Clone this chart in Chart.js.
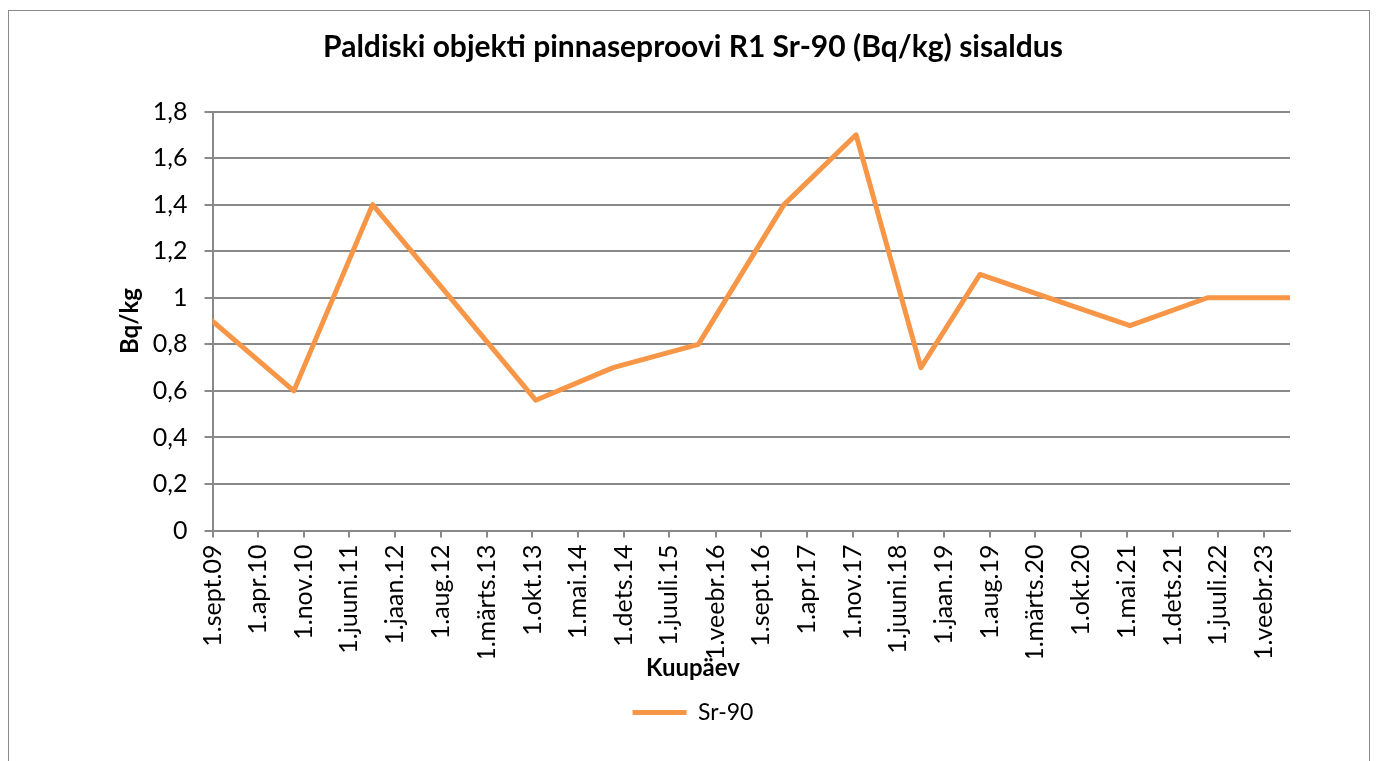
<!DOCTYPE html>
<html lang="et">
<head>
<meta charset="utf-8">
<title>Paldiski objekti pinnaseproovi R1 Sr-90 (Bq/kg) sisaldus</title>
<script src="https://cdn.jsdelivr.net/npm/chart.js@4/dist/chart.umd.min.js"></script>
<style>
  html, body { margin: 0; padding: 0; background: #ffffff; }
  canvas { display: block; }
</style>
</head>
<body>
<canvas id="chart" width="1378" height="761"></canvas>
<script>
// Sampling dates of soil sample R1 and the measured Sr-90 activity (Bq/kg)
const axisStart = '2009-09-01';
const axisEnd = '2023-06-01';
const sampleDates = [
  '2009-09-01', '2010-09-15', '2011-09-17', '2013-10-16', '2014-10-12',
  '2015-11-13', '2016-12-16', '2017-11-17', '2018-09-15', '2019-06-17',
  '2021-05-16', '2022-05-13', '2023-06-01'
];
const sr90Values = [0.9, 0.6, 1.4, 0.56, 0.7, 0.8, 1.4, 1.7, 0.7, 1.1, 0.88, 1.0, 1.0];

// Date axis ticks, one every seven months
const xTickDates = [
  '2009-09-01', '2010-04-01', '2010-11-01', '2011-06-01', '2012-01-01', '2012-08-01',
  '2013-03-01', '2013-10-01', '2014-05-01', '2014-12-01', '2015-07-01', '2016-02-01',
  '2016-09-01', '2017-04-01', '2017-11-01', '2018-06-01', '2019-01-01', '2019-08-01',
  '2020-03-01', '2020-10-01', '2021-05-01', '2021-12-01', '2022-07-01', '2023-02-01'
];
const xTickLabels = [
  '1.sept.09', '1.apr.10', '1.nov.10', '1.juuni.11', '1.jaan.12', '1.aug.12',
  '1.märts.13', '1.okt.13', '1.mai.14', '1.dets.14', '1.juuli.15', '1.veebr.16',
  '1.sept.16', '1.apr.17', '1.nov.17', '1.juuni.18', '1.jaan.19', '1.aug.19',
  '1.märts.20', '1.okt.20', '1.mai.21', '1.dets.21', '1.juuli.22', '1.veebr.23'
];

// Value axis
const yTickValues = [0, 0.2, 0.4, 0.6, 0.8, 1.0, 1.2, 1.4, 1.6, 1.8];
const yTickLabels = ['0', '0,2', '0,4', '0,6', '0,8', '1', '1,2', '1,4', '1,6', '1,8'];

const DAY_MS = 86400000;
function dayIndex(iso) {
  const [y, m, d] = iso.split('-').map(Number);
  const [y0, m0, d0] = axisStart.split('-').map(Number);
  return Math.round((Date.UTC(y, m - 1, d) - Date.UTC(y0, m0 - 1, d0)) / DAY_MS);
}

const points = sampleDates.map((d, i) => ({ x: dayIndex(d), y: sr90Values[i] }));
const xTickPositions = xTickDates.map(dayIndex);

const ORANGE = '#F79646';
const GRID = '#898989';
const FONT = 'Lato, "Open Sans", sans-serif';

Chart.defaults.color = '#000000';
Chart.defaults.font.family = FONT;

// Outer frame of the chart
const framePlugin = {
  id: 'frame',
  beforeDraw(chart) {
    const ctx = chart.ctx;
    ctx.save();
    ctx.fillStyle = '#ffffff';
    ctx.fillRect(0, 0, chart.width, chart.height);
    ctx.strokeStyle = '#8a8a8a';
    ctx.lineWidth = 1;
    ctx.strokeRect(8.5, 10.5, 1361, 800);
    ctx.restore();
  }
};

new Chart(document.getElementById('chart'), {
  type: 'line',
  data: {
    datasets: [{
      label: 'Sr-90',
      data: points,
      borderColor: ORANGE,
      backgroundColor: ORANGE,
      borderWidth: 5,
      borderCapStyle: 'round',
      borderJoinStyle: 'round',
      pointRadius: 0,
      pointHoverRadius: 0,
      tension: 0,
      fill: false
    }]
  },
  options: {
    responsive: false,
    animation: false,
    events: [],
    layout: { padding: { left: 96, right: 88, top: 20, bottom: 27 } },
    plugins: {
      tooltip: { enabled: false },
      title: {
        display: true,
        text: 'Paldiski objekti pinnaseproovi R1 Sr-90 (Bq/kg) sisaldus',
        color: '#000000',
        font: { family: FONT, size: 30, weight: 'bold' },
        padding: { top: 9, bottom: 46.5 }
      },
      legend: {
        position: 'bottom',
        title: {
          display: true,
          text: 'Kuupäev',
          position: 'center',
          color: '#000000',
          font: { family: FONT, size: 24, weight: 'bold' },
          padding: { top: -1, bottom: 5.6 }
        },
        labels: {
          font: { family: FONT, size: 23 },
          color: '#000000',
          boxWidth: 54,
          boxHeight: 5,
          padding: 10,
          useBorderRadius: true,
          borderRadius: 2.5,
          generateLabels(chart) {
            return chart.data.datasets.map((ds, i) => ({
              text: ds.label,
              fillStyle: ds.borderColor,
              strokeStyle: ds.borderColor,
              lineWidth: 0,
              hidden: false,
              datasetIndex: i,
              fontColor: '#000000'
            }));
          }
        }
      }
    },
    scales: {
      x: {
        type: 'linear',
        min: 0,
        max: dayIndex(axisEnd),
        afterBuildTicks(scale) {
          scale.ticks = xTickPositions.map(v => ({ value: v }));
        },
        afterFit(scale) { scale.height = 127; },
        ticks: {
          autoSkip: false,
          minRotation: 90,
          maxRotation: 90,
          padding: 7,
          font: { family: FONT, size: 25 },
          color: '#000000',
          callback: (value, index) => xTickLabels[index]
        },
        grid: {
          drawOnChartArea: false,
          drawTicks: true,
          tickLength: 7,
          color: GRID,
          lineWidth: 2
        },
        border: { display: true, color: GRID, width: 2 }
      },
      y: {
        min: 0,
        max: 1.8,
        afterBuildTicks(scale) {
          scale.ticks = yTickValues.map(v => ({ value: v }));
        },
        afterFit(scale) { scale.width = 116.5; },
        ticks: {
          padding: 17,
          font: { family: FONT, size: 25 },
          color: '#000000',
          callback: (value, index) => yTickLabels[index]
        },
        grid: {
          color: GRID,
          lineWidth: 2,
          tickLength: 8
        },
        border: { display: true, color: GRID, width: 2 },
        title: {
          display: true,
          text: 'Bq/kg',
          color: '#000000',
          font: { family: FONT, size: 24, weight: 'bold' },
          padding: { top: 19.6, bottom: 0 }
        }
      }
    }
  },
  plugins: [framePlugin]
});
</script>
</body>
</html>
